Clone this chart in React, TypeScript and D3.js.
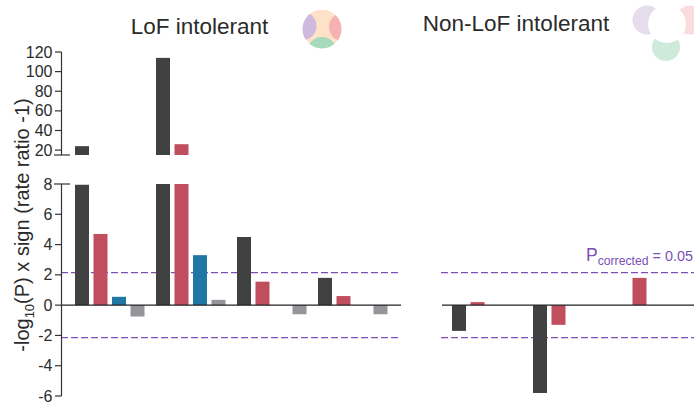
import React from "react";
import * as d3 from "d3";

const slots = ["dark", "red", "blue", "grey"];
const groups = ["g1", "g2", "g3", "g4"];
const lofDark = [24, 114, 4.5, 1.8];
const lofRed = [4.7, 26, 1.55, 0.6];
const lofBlue = [0.55, 3.3, 0, 0];
const lofGrey = [-0.75, 0.35, -0.6, -0.6];
const nonDark = [-1.7, -5.8, 0, 0];
const nonRed = [0.2, -1.3, 1.8, 0];
const nonBlue = [0, 0, 0, 0];
const nonGrey = [0, 0, 0, 0];
const lowerTicks = [8, 6, 4, 2, 0, -2, -4, -6];
const upperTicks = [120, 100, 80, 60, 40, 20];
const threshold = 2.15;

const colors: Record<string, string> = { dark: "#404141", red: "#c04e5e", blue: "#1f77a6", grey: "#939598" };
const purple = "#7b4fb5";
const textColor = "#2b2b2b";
const font = "'Liberation Sans', Arial, sans-serif";

const yLow = d3.scaleLinear().domain([-6, 8]).range([396, 184]);
const yUp = d3.scaleLinear().domain([15, 120]).range([155, 52]);
const inner = d3.scaleBand<string>().domain(slots).range([0, 74]).padding(0);
const x1 = d3.scaleBand<string>().domain(groups).range([75, 399]).padding(0);
const x2 = d3.scaleBand<string>().domain(groups).range([452, 776]).padding(0);

type Series = Record<string, number[]>;
const lof: Series = { dark: lofDark, red: lofRed, blue: lofBlue, grey: lofGrey };
const non: Series = { dark: nonDark, red: nonRed, blue: nonBlue, grey: nonGrey };

function Bars({ data, x }: { data: Series; x: d3.ScaleBand<string> }) {
  const marks: React.ReactNode[] = [];
  groups.forEach((g, gi) =>
    slots.forEach((s) => {
      const v = data[s][gi];
      if (!v) return;
      const bx = (x(g) as number) + (inner(s) as number);
      const top = yLow(Math.min(v, v < 100 && s === "dark" ? 7.95 : 8));
      const y0 = yLow(0);
      marks.push(
        <rect key={g + s} x={bx} width={14} y={Math.min(top, y0)} height={Math.abs(y0 - top)} fill={colors[s]} />
      );
      if (v > 15) {
        marks.push(
          <rect key={g + s + "u"} x={bx} width={14} y={yUp(v)} height={yUp(15) - yUp(v)} fill={colors[s]} />
        );
      }
    })
  );
  return <g>{marks}</g>;
}

export default function App() {
  const axisColor = "#333";
  return (
    <svg width={694} height={404} style={{ position: "absolute", left: 0, top: 0, background: "#fff" }} fontFamily={font}>
      <defs>
        <clipPath id="c1"><circle cx={322} cy={29} r={19.5} /></clipPath>
      </defs>

      <text x={199.5} y={34} textAnchor="middle" fontSize={22.5} fill={textColor}>LoF intolerant</text>
      <text x={516} y={31} textAnchor="middle" fontSize={22.5} fill={textColor}>Non-LoF intolerant</text>

      <g clipPath="url(#c1)">
        <circle cx={322} cy={29} r={19.5} fill="#fde2c8" />
        <circle cx={302.5} cy={26} r={14} fill="#cdbadd" />
        <circle cx={343} cy={27} r={14} fill="#f6b1b3" />
        <circle cx={322} cy={52} r={15} fill="#a6dabc" />
      </g>

      <circle cx={647} cy={20} r={14.5} fill="#e5dcec" />
      <circle cx={690} cy={20} r={14.5} fill="#fbdcdc" />
      <circle cx={666} cy={47} r={14} fill="#cdeadb" />
      <circle cx={667} cy={24} r={19} fill="#fff" />

      <line x1={61} x2={399} y1={yLow(threshold)} y2={yLow(threshold)} stroke={purple} strokeWidth={1.3} strokeDasharray="7 3" />
      <line x1={61} x2={399} y1={yLow(-threshold)} y2={yLow(-threshold)} stroke={purple} strokeWidth={1.3} strokeDasharray="7 3" />
      <line x1={441} x2={694} y1={yLow(threshold)} y2={yLow(threshold)} stroke={purple} strokeWidth={1.3} strokeDasharray="7 3" />
      <line x1={441} x2={694} y1={yLow(-threshold)} y2={yLow(-threshold)} stroke={purple} strokeWidth={1.3} strokeDasharray="7 3" />

      <Bars data={lof} x={x1} />
      <Bars data={non} x={x2} />

      <line x1={61} x2={401} y1={yLow(0)} y2={yLow(0)} stroke="#222" strokeWidth={1.2} />
      <line x1={442} x2={694} y1={yLow(0)} y2={yLow(0)} stroke="#222" strokeWidth={1.2} />

      <line x1={61.5} x2={61.5} y1={yUp(120)} y2={yUp(15)} stroke={axisColor} strokeWidth={1.2} />
      <line x1={61.5} x2={61.5} y1={yLow(8)} y2={yLow(-6)} stroke={axisColor} strokeWidth={1.2} />
      <line x1={54} x2={70} y1={yUp(15)} y2={yUp(15)} stroke={axisColor} strokeWidth={1.2} />
      <line x1={54} x2={70} y1={yLow(8)} y2={yLow(8)} stroke={axisColor} strokeWidth={1.2} />

      {upperTicks.map((t) => (
        <g key={"u" + t}>
          <line x1={55} x2={61.5} y1={yUp(t)} y2={yUp(t)} stroke={axisColor} strokeWidth={1.2} />
          <text x={52.5} y={yUp(t) + 5.5} textAnchor="end" fontSize={16} fill={textColor}>{t}</text>
        </g>
      ))}
      {lowerTicks.map((t) => (
        <g key={"l" + t}>
          {t !== 8 && <line x1={55} x2={61.5} y1={yLow(t)} y2={yLow(t)} stroke={axisColor} strokeWidth={1.2} />}
          <text x={52.5} y={yLow(t) + 5.5} textAnchor="end" fontSize={16} fill={textColor}>{t}</text>
        </g>
      ))}

      <text transform="translate(29,225) rotate(-90)" textAnchor="middle" fontSize={20} fill={textColor}>
        -log<tspan fontSize={13} dy={5}>10</tspan><tspan dy={-5}>(P) x sign (rate ratio -1)</tspan>
      </text>

      <text x={586} y={261} fontSize={17.5} fill={purple}>
        P<tspan fontSize={12.2} dy={4}>corrected</tspan><tspan dy={-4} fontSize={14.4}> = 0.05</tspan>
      </text>
    </svg>
  );
}
